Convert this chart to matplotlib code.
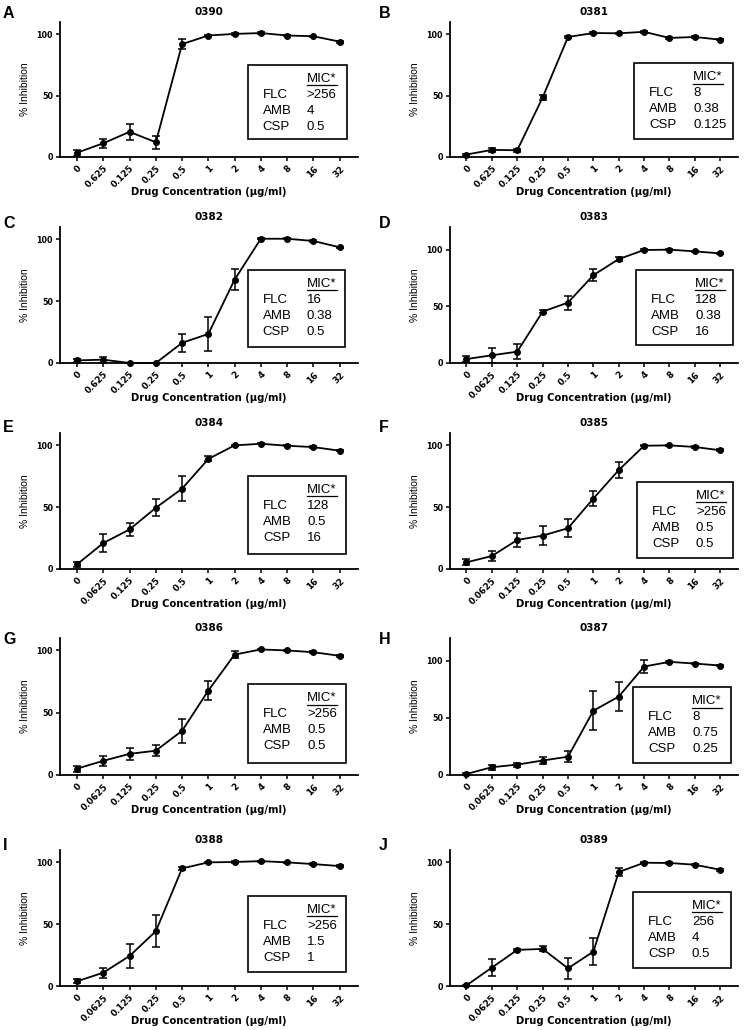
import numpy as np
import matplotlib
matplotlib.use('Agg')
import matplotlib.pyplot as plt
from matplotlib.patches import Rectangle

plt.rcParams['font.family'] = ['Liberation Sans', 'DejaVu Sans']

# ---- data ----
letters = ['A', 'B', 'C', 'D', 'E', 'F', 'G', 'H', 'I', 'J']
strains = ['0390', '0381', '0382', '0383', '0384', '0385', '0386', '0387', '0388', '0389']

ticks_typo = ['0', '0.625', '0.125', '0.25', '0.5', '1', '2', '4', '8', '16', '32']
ticks_ok = ['0', '0.0625', '0.125', '0.25', '0.5', '1', '2', '4', '8', '16', '32']
tick_sets = [ticks_typo, ticks_typo, ticks_typo] + [ticks_ok] * 7

inh_0390 = [3.5, 11.2, 20.5, 12.0, 92.0, 99.0, 100.3, 101.0, 99.0, 98.4, 94.0]
err_0390 = [2.5, 3.7, 6.5, 5.5, 4.0, 0.8, 0.6, 0.8, 0.6, 0.6, 0.8]
inh_0381 = [2.0, 5.8, 5.5, 48.5, 97.8, 101.0, 100.8, 102.0, 97.0, 97.8, 95.6]
err_0381 = [0.8, 1.8, 1.2, 2.0, 0.8, 0.8, 0.6, 0.8, 0.6, 0.6, 0.6]
inh_0382 = [2.1, 2.7, 0.0, 0.0, 16.3, 23.5, 67.4, 100.5, 100.5, 98.7, 93.6]
err_0382 = [1.0, 2.5, 0.3, 0.3, 7.5, 14.0, 8.4, 0.5, 0.5, 0.6, 0.6]
inh_0383 = [3.5, 6.8, 10.0, 45.3, 53.3, 77.5, 91.7, 99.7, 100.0, 98.5, 96.7]
err_0383 = [2.5, 6.5, 6.5, 1.5, 6.2, 5.5, 2.0, 0.6, 0.5, 0.6, 0.6]
inh_0384 = [3.8, 21.0, 32.0, 49.5, 65.0, 89.0, 100.0, 101.3, 99.7, 98.6, 95.7]
err_0384 = [2.0, 7.0, 5.0, 6.8, 10.0, 2.0, 0.6, 0.6, 0.5, 0.6, 0.6]
inh_0385 = [5.4, 10.5, 23.5, 27.0, 33.0, 57.0, 80.0, 99.7, 100.0, 98.7, 96.0]
err_0385 = [2.5, 4.3, 5.4, 7.7, 7.5, 6.0, 6.2, 0.5, 0.5, 0.6, 0.8]
inh_0386 = [5.1, 11.4, 17.0, 19.5, 35.5, 67.8, 96.7, 100.8, 100.0, 98.6, 95.7]
err_0386 = [2.5, 4.2, 5.0, 4.5, 9.5, 7.3, 3.0, 0.6, 0.5, 0.6, 0.6]
inh_0387 = [0.9, 6.8, 9.1, 12.7, 16.0, 56.3, 68.7, 95.0, 99.1, 97.6, 95.9]
err_0387 = [0.8, 2.0, 1.8, 3.2, 5.0, 17.0, 12.5, 5.5, 0.6, 0.6, 0.6]
inh_0388 = [3.8, 10.8, 24.3, 44.3, 95.1, 100.0, 100.3, 101.0, 100.0, 98.6, 97.0]
err_0388 = [1.5, 4.0, 9.5, 13.0, 1.5, 0.5, 0.5, 0.5, 0.5, 0.6, 0.6]
inh_0389 = [0.5, 14.9, 29.2, 30.0, 14.3, 27.8, 92.2, 99.7, 99.5, 98.1, 94.0]
err_0389 = [0.5, 7.0, 1.0, 2.0, 8.6, 10.8, 3.4, 0.6, 0.5, 0.6, 0.6]

inhibition = [inh_0390, inh_0381, inh_0382, inh_0383, inh_0384,
              inh_0385, inh_0386, inh_0387, inh_0388, inh_0389]
errors = [err_0390, err_0381, err_0382, err_0383, err_0384,
          err_0385, err_0386, err_0387, err_0388, err_0389]

mic_flc = ['>256', '8', '16', '128', '128', '>256', '>256', '8', '>256', '256']
mic_amb = ['4', '0.38', '0.38', '0.38', '0.5', '0.5', '0.5', '0.75', '1.5', '4']
mic_csp = ['0.5', '0.125', '0.5', '16', '16', '0.5', '0.5', '0.25', '1', '0.5']

y_tops = [110, 110, 110, 120, 110, 110, 110, 120, 110, 110]

# ---- layout (pixels) ----
W, H = 753, 1030
col_x = [(60, 358), (450, 738)]
row_y = [(22, 157), (227, 363), (433, 569), (638, 775), (850, 986)]
letter_x = [3, 379]
letter_y = [13, 223, 427, 640, 846]
# inset box in axes fraction: left, right, top, bottom
boxes = [(0.63, 0.963, 0.684, 0.132), (0.64, 0.983, 0.694, 0.134),
         (0.63, 0.957, 0.685, 0.120), (0.646, 0.983, 0.685, 0.130),
         (0.631, 0.961, 0.685, 0.113), (0.649, 0.983, 0.643, 0.081),
         (0.631, 0.961, 0.661, 0.091), (0.636, 0.977, 0.639, 0.086),
         (0.631, 0.961, 0.663, 0.101), (0.635, 0.977, 0.693, 0.129)]

bold_font = ['DejaVu Sans']

fig = plt.figure(figsize=(W / 100, H / 100), dpi=100)

for i in range(10):
    r, c = divmod(i, 2)
    x0, x1 = col_x[c]
    yt, yb = row_y[r]
    ax = fig.add_axes([x0 / W, 1 - yb / H, (x1 - x0) / W, (yb - yt) / H])
    axw, axh = x1 - x0, yb - yt

    xs = np.arange(11)
    ax.errorbar(xs, inhibition[i], yerr=errors[i], color='black', lw=1.3,
                marker='o', ms=4, capsize=3, elinewidth=1.1, capthick=1.1,
                clip_on=False, zorder=3)

    ax.set_xlim(-0.65, 10.7)
    ax.set_ylim(0, y_tops[i])
    ax.set_yticks([0, 50, 100])
    ax.set_xticks(xs)
    ax.set_xticklabels(tick_sets[i], rotation=45, ha='right', rotation_mode='anchor',
                       fontsize=6.3, fontweight='bold', family=bold_font)
    for lab in ax.get_yticklabels():
        lab.set_fontweight('bold')
        lab.set_fontsize(5.8)
        lab.set_family(bold_font)
    ax.tick_params(direction='out', length=3, width=1.1, pad=2)
    for s in ['top', 'right']:
        ax.spines[s].set_visible(False)
    for s in ['left', 'bottom']:
        ax.spines[s].set_linewidth(1.3)

    ax.set_ylabel('% Inhibition', fontsize=7.5, labelpad=5)
    ax.set_xlabel('Drug Concentration (µg/ml)', fontsize=7.2, fontweight='bold',
                  family=bold_font, va='center')
    ax.xaxis.set_label_coords(0.5, -35 / axh)
    ax.set_title(strains[i], fontsize=7.5, fontweight='bold', family=bold_font, pad=5)
    fig.text(letter_x[c] / W, 1 - letter_y[r] / H, letters[i], fontsize=11.5,
             fontweight='bold', ha='left', va='center')

    # MIC inset
    bl, br, bt, bb = boxes[i]
    ax.add_patch(Rectangle((bl, bb), br - bl, bt - bb, transform=ax.transAxes,
                           fill=False, lw=1.2, ec='black', clip_on=False, zorder=4))
    lx = bl + 15 / axw
    vx = bl + 59 / axw
    row_off = [14, 30, 46, 62]
    ax.text(vx, bt - row_off[0] / axh, 'MIC*', transform=ax.transAxes, fontsize=9.5,
            ha='left', va='center')
    ax.plot([vx, vx + 30 / axw], [bt - 20.5 / axh] * 2, transform=ax.transAxes,
            color='black', lw=0.9, clip_on=False)
    for lab, val, off in zip(['FLC', 'AMB', 'CSP'],
                             [mic_flc[i], mic_amb[i], mic_csp[i]], row_off[1:]):
        ax.text(lx, bt - off / axh, lab, transform=ax.transAxes, fontsize=9.5,
                ha='left', va='center')
        ax.text(vx, bt - off / axh, val, transform=ax.transAxes, fontsize=9.5,
                ha='left', va='center')

fig.savefig('out.png', dpi=100)
